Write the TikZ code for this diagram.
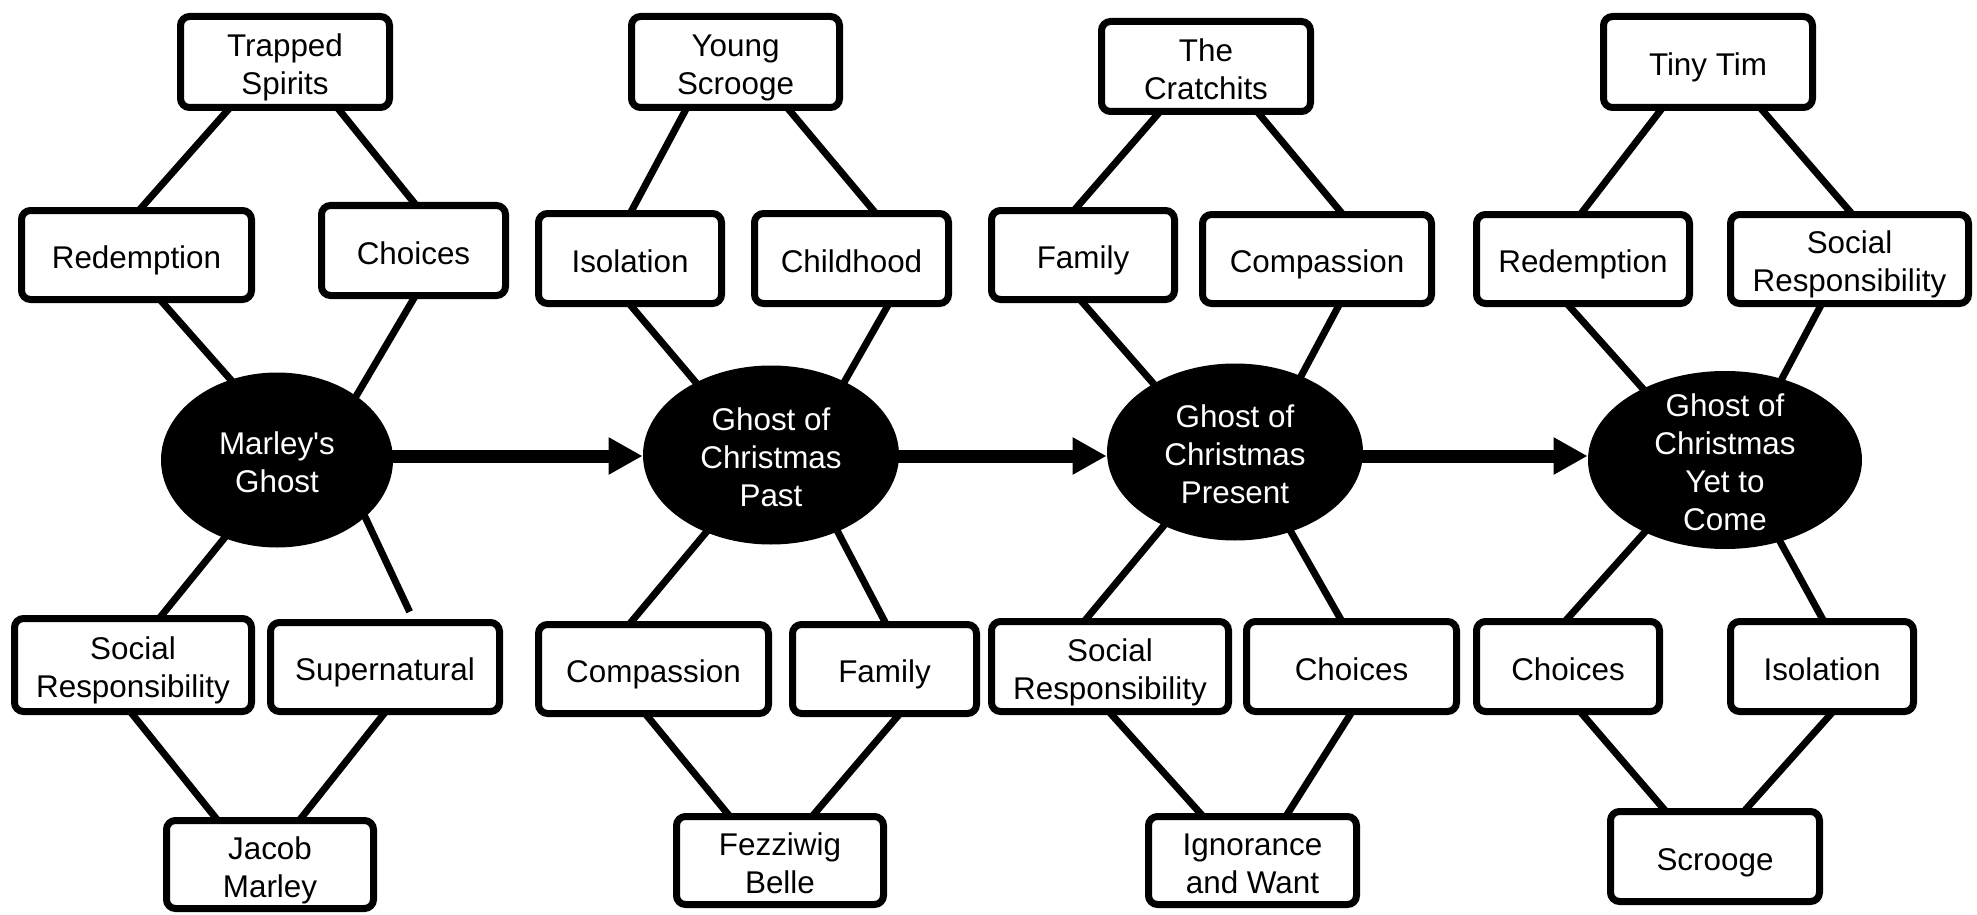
\documentclass[tikz,border=0pt]{standalone}
\usepackage{fontspec}
\setmainfont{Liberation Sans}
\usetikzlibrary{shapes.geometric,calc,arrows.meta,backgrounds}

% Text boxes get a fixed height and depth per number of lines, so the text
% sits the same in every shape. A multi-line node's baseline is its last line.
\tikzset{
  txtfont/.style={font=\fontsize{15.7}{19}\selectfont},
  one/.style={text height=17.2pt, text depth=3.33pt},
  two/.style={text height=36.2pt, text depth=3.33pt},
  three/.style={text height=55.2pt, text depth=3.33pt},
  four/.style={text height=74.2pt, text depth=3.33pt},
  bx/.style 2 args={draw=black, line width=3.5pt, rounded corners=4.5pt,
    fill=white, align=center, inner sep=0pt, txtfont,
    minimum width=#1*0.5pt, minimum height=#2*0.5pt},
  gh/.style 2 args={ellipse, fill=black, inner sep=0pt,
    minimum width=#1*0.5pt, minimum height=#2*0.5pt},
  gtxt/.style={text=white, align=center, inner sep=0pt, txtfont},
  ln/.style={line width=3.5pt, shorten <=-3pt, shorten >=-3pt},
  arw/.style={line width=6.5pt, -{Triangle[length=17pt,width=17.5pt]}}
}

\begin{document}
\begin{tikzpicture}[x=0.5pt, y=-0.5pt]
\useasboundingbox (0,0) rectangle (1977,915);

% ---- Marley's Ghost ----
\node[bx={209}{91}, two] (ts) at (285,62) {Trapped\\Spirits};
\node[bx={230}{89}, one] (red1) at (136.5,255) {Redemption};
\node[bx={184}{90}, one] (cho1) at (413.5,250.5) {Choices};
\node[gh={232}{175}] (m) at (277,460) {};
\node[gtxt, two] at (m) {Marley\textquotesingle s\\Ghost};
\node[bx={237}{93}, two] (sr1) at (133,665) {Social\\Responsibility};
\node[bx={229}{89}, one] (sup) at (385,667) {Supernatural};
\node[bx={207}{88}, two] (jm) at (270,864.5) {Jacob\\Marley};

% ---- Ghost of Christmas Past ----
\node[bx={208}{91}, two] (ys) at (735.5,62) {Young\\Scrooge};
\node[bx={183}{90}, one] (iso2) at (630,258.5) {Isolation};
\node[bx={194}{90}, one] (chi) at (851.5,258.5) {Childhood};
\node[gh={256}{179}] (pa) at (771,455) {};
\node[gtxt, three] at (pa) {Ghost of\\Christmas\\Past};
\node[bx={230}{89}, one] (com2) at (653.5,669) {Compassion};
\node[bx={184}{89}, one] (fam2) at (884.5,669) {Family};
\node[bx={207}{88}, two] (fez) at (780,860.5) {Fezziwig\\Belle};

% ---- Ghost of Christmas Present ----
\node[bx={209}{90}, two] (cra) at (1206,66.5) {The\\Cratchits};
\node[bx={183}{89}, one] (fam3) at (1083,255) {Family};
\node[bx={229}{89}, one] (com3) at (1317,259) {Compassion};
\node[gh={256}{177}] (pr) at (1235,452) {};
\node[gtxt, three] at (pr) {Ghost of\\Christmas\\Present};
\node[bx={237}{90}, two] (sr3) at (1110,666.5) {Social\\Responsibility};
\node[bx={210}{90}, one] (cho3) at (1351.5,666.5) {Choices};
\node[bx={208}{88}, two] (iw) at (1252.5,860.5) {Ignorance\\and Want};

% ---- Ghost of Christmas Yet to Come ----
\node[bx={209}{91}, one] (tt) at (1708,62) {Tiny Tim};
\node[bx={213}{89}, one] (red4) at (1583,259) {Redemption};
\node[bx={238}{89}, two] (sr4) at (1849.5,259) {Social\\Responsibility};
\node[gh={274}{178}] (yc) at (1725,460) {};
\node[gtxt, four] at (yc) {Ghost of\\Christmas\\Yet to\\Come};
\node[bx={183}{90}, one] (cho4) at (1568,666.5) {Choices};
\node[bx={183}{90}, one] (iso4) at (1822,666.5) {Isolation};
\node[bx={209}{90}, one] (scr) at (1715,856.5) {Scrooge};

% ---- theme links, kept behind the boxes ----
\begin{scope}[on background layer]
  \draw[ln] ($(ts.south)+(-58,0)$) -- ($(red1.north)+(5.5,0)$);
  \draw[ln] ($(ts.south)+(55,0)$) -- (cho1.north);
  \draw[ln] ($(red1.south)+(26.5,0)$) -- (m.120);
  \draw[ln] (cho1.south) -- (m.39);
  \draw[ln] (m.236) -- ($(sr1.north)+(29,0)$);
  \draw[ln, shorten >=4pt] (m.327) -- ($(sup.north)+(28,0)$);
  \draw[ln] (sr1.south) -- ($(jm.north)+(-55,0)$);
  \draw[ln] ($(sup.south)+(-2,0)$) -- ($(jm.north)+(32,0)$);

  \draw[ln] ($(ys.south)+(-50.5,0)$) -- ($(iso2.north)+(2,0)$);
  \draw[ln] ($(ys.south)+(54.5,0)$) -- ($(chi.north)+(21.5,0)$);
  \draw[ln] ($(iso2.south)+(2,0)$) -- (pa.136);
  \draw[ln] ($(chi.south)+(35.5,0)$) -- (pa.45);
  \draw[ln] (pa.230) -- ($(com2.north)+(-21.5,0)$);
  \draw[ln] (pa.311) -- (fam2.north);
  \draw[ln] ($(com2.south)+(-5.5,0)$) -- ($(fez.north)+(-53,0)$);
  \draw[ln] ($(fam2.south)+(12.5,0)$) -- ($(fez.north)+(35,0)$);

  \draw[ln] ($(cra.south)+(-49,0)$) -- ($(fam3.north)+(-6,0)$);
  \draw[ln] ($(cra.south)+(54,0)$) -- ($(com3.north)+(23,0)$);
  \draw[ln] (fam3.south) -- (pr.140);
  \draw[ln] ($(com3.south)+(21,0)$) -- (pr.49);
  \draw[ln] (pr.226) -- ($(sr3.north)+(-23,0)$);
  \draw[ln] (pr.305) -- ($(cho3.north)+(-11.5,0)$);
  \draw[ln] ($(sr3.south)+(2,0)$) -- ($(iw.north)+(-52.5,0)$);
  \draw[ln] ($(cho3.south)+(-1.5,0)$) -- ($(iw.north)+(35.5,0)$);

  \draw[ln] ($(tt.south)+(-48,0)$) -- (red4.north);
  \draw[ln] ($(tt.south)+(55,0)$) -- (sr4.north);
  \draw[ln] ($(red4.south)+(-13,0)$) -- (yc.139);
  \draw[ln] ($(sr4.south)+(-29.5,0)$) -- (yc.55);
  \draw[ln] (yc.222) -- (cho4.north);
  \draw[ln] (yc.304) -- (iso4.north);
  \draw[ln] ($(cho4.south)+(15,0)$) -- ($(scr.north)+(-52,0)$);
  \draw[ln] ($(iso4.south)+(8,0)$) -- ($(scr.north)+(32,0)$);
\end{scope}

% ---- sequence of the spirits ----
\draw[arw] ($(m.east)+(-2,-4)$) -- ($(pa.west)+(0,1)$);
\draw[arw] ($(pa.east)+(-2,1)$) -- ($(pr.west)+(0,4)$);
\draw[arw] ($(pr.east)+(-2,4)$) -- ($(yc.west)+(0,-4)$);
\end{tikzpicture}
\end{document}
